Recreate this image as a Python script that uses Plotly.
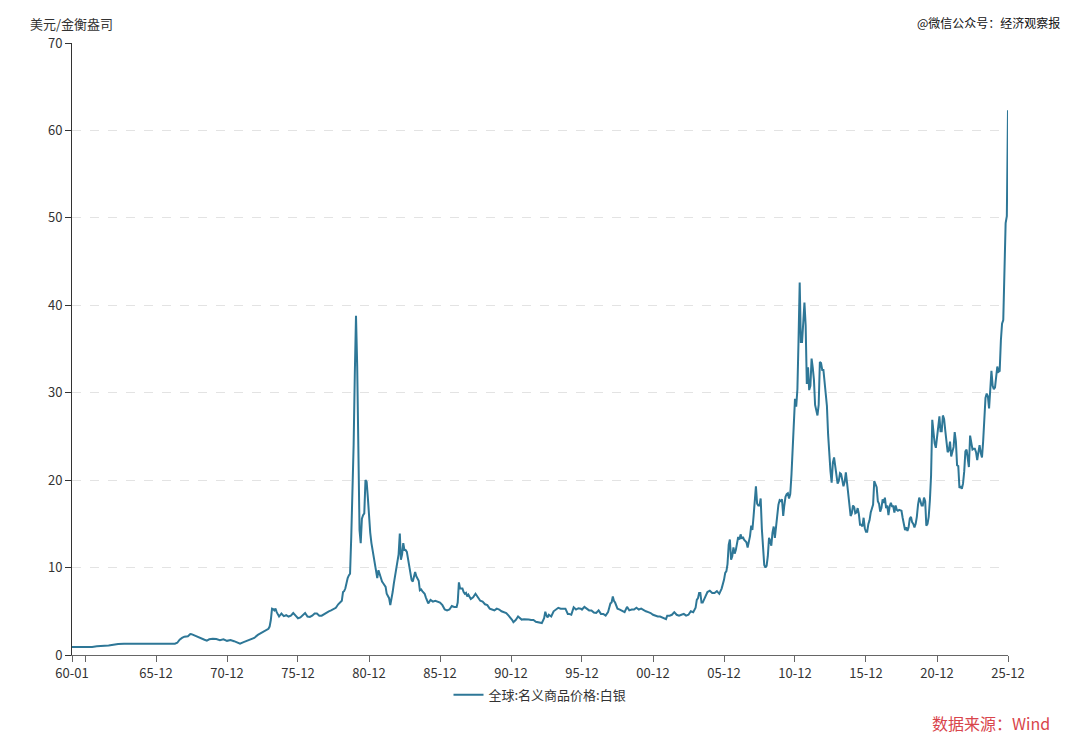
import plotly.graph_objects as go

# 全球:名义商品价格:白银 (美元/金衡盎司)
months = [
    "1960-01", "1960-07", "1960-12", "1961-06", "1961-10", "1962-03", "1962-08", "1962-12",
    "1963-04", "1963-09", "1964-06", "1965-06", "1966-06",
    "1967-04", "1967-06", "1967-08", "1967-10", "1967-12",
    "1968-03", "1968-05", "1968-06", "1968-08", "1968-11",
    "1969-02", "1969-05", "1969-07", "1969-09", "1969-12",
    "1970-03", "1970-06", "1970-09", "1970-12",
    "1971-03", "1971-06", "1971-09", "1971-11",
    "1972-02", "1972-05", "1972-08", "1972-11",
    "1973-02", "1973-05", "1973-08", "1973-11", "1973-12",
    "1974-01", "1974-02", "1974-03", "1974-04", "1974-05", "1974-06", "1974-08", "1974-10", "1974-12",
    "1975-02", "1975-04", "1975-06", "1975-08", "1975-10", "1975-12",
    "1976-02", "1976-04", "1976-06", "1976-08", "1976-10", "1976-12",
    "1977-02", "1977-04", "1977-06", "1977-08", "1977-10", "1977-12",
    "1978-02", "1978-04", "1978-06", "1978-08", "1978-10", "1978-12",
    "1979-01", "1979-02", "1979-03", "1979-04", "1979-05", "1979-06",
    "1979-07", "1979-08", "1979-09", "1979-10", "1979-11", "1979-12",
    "1980-01", "1980-02", "1980-03", "1980-04", "1980-05", "1980-06",
    "1980-07", "1980-08", "1980-09", "1980-10", "1980-11", "1980-12",
    "1981-01", "1981-02", "1981-03", "1981-04", "1981-05", "1981-06",
    "1981-07", "1981-08", "1981-09", "1981-10", "1981-11", "1981-12",
    "1982-01", "1982-02", "1982-03", "1982-04", "1982-05", "1982-06",
    "1982-07", "1982-08", "1982-09", "1982-10", "1982-11", "1982-12",
    "1983-01", "1983-02", "1983-03", "1983-04", "1983-05", "1983-06",
    "1983-07", "1983-08", "1983-09", "1983-10", "1983-11", "1983-12",
    "1984-01", "1984-02", "1984-03", "1984-04", "1984-05", "1984-06",
    "1984-07", "1984-08", "1984-09", "1984-10", "1984-11", "1984-12",
    "1985-02", "1985-04", "1985-06", "1985-08", "1985-10", "1985-12",
    "1986-02", "1986-04", "1986-06", "1986-08", "1986-10", "1986-12",
    "1987-02", "1987-03", "1987-04", "1987-05", "1987-06", "1987-07",
    "1987-08", "1987-09", "1987-10", "1987-11", "1987-12",
    "1988-02", "1988-04", "1988-06", "1988-08", "1988-10", "1988-12",
    "1989-02", "1989-04", "1989-06", "1989-08", "1989-10", "1989-12",
    "1990-02", "1990-04", "1990-06", "1990-08", "1990-10", "1990-12",
    "1991-01", "1991-02", "1991-04", "1991-06", "1991-07", "1991-09", "1991-11",
    "1992-01", "1992-03", "1992-05", "1992-07", "1992-09", "1992-11",
    "1993-01", "1993-02", "1993-04", "1993-05", "1993-06", "1993-07", "1993-08", "1993-10", "1993-12",
    "1994-02", "1994-04", "1994-06", "1994-08", "1994-10", "1994-12",
    "1995-01", "1995-03", "1995-04", "1995-05", "1995-07", "1995-09", "1995-11", "1995-12",
    "1996-02", "1996-04", "1996-06", "1996-08", "1996-10", "1996-12",
    "1997-02", "1997-04", "1997-06", "1997-08", "1997-10", "1997-12",
    "1998-01", "1998-02", "1998-03", "1998-04", "1998-06", "1998-08", "1998-10", "1998-12",
    "1999-02", "1999-04", "1999-06", "1999-08", "1999-10", "1999-12",
    "2000-02", "2000-04", "2000-06", "2000-08", "2000-10", "2000-12",
    "2001-02", "2001-04", "2001-06", "2001-08", "2001-10", "2001-11", "2001-12",
    "2002-02", "2002-04", "2002-06", "2002-08", "2002-10", "2002-12",
    "2003-02", "2003-04", "2003-06", "2003-08", "2003-10", "2003-12",
    "2004-01", "2004-02", "2004-03", "2004-04", "2004-05", "2004-06", "2004-08", "2004-10", "2004-12",
    "2005-02", "2005-04", "2005-06", "2005-08", "2005-10", "2005-12",
    "2006-01", "2006-02", "2006-03", "2006-04", "2006-05", "2006-06",
    "2006-07", "2006-08", "2006-09", "2006-10", "2006-11", "2006-12",
    "2007-01", "2007-02", "2007-03", "2007-04", "2007-05", "2007-06",
    "2007-07", "2007-08", "2007-09", "2007-10", "2007-11", "2007-12",
    "2008-01", "2008-02", "2008-03", "2008-04", "2008-05", "2008-06",
    "2008-07", "2008-08", "2008-09", "2008-10", "2008-11", "2008-12",
    "2009-01", "2009-02", "2009-03", "2009-04", "2009-05", "2009-06",
    "2009-07", "2009-08", "2009-09", "2009-10", "2009-11", "2009-12",
    "2010-01", "2010-02", "2010-03", "2010-04", "2010-05", "2010-06",
    "2010-07", "2010-08", "2010-09", "2010-10", "2010-11", "2010-12",
    "2011-01", "2011-02", "2011-03", "2011-04", "2011-05", "2011-06",
    "2011-07", "2011-08", "2011-09", "2011-10", "2011-11", "2011-12",
    "2012-01", "2012-02", "2012-03", "2012-04", "2012-05", "2012-06",
    "2012-07", "2012-08", "2012-09", "2012-10", "2012-11", "2012-12",
    "2013-01", "2013-02", "2013-03", "2013-04", "2013-05", "2013-06",
    "2013-07", "2013-08", "2013-09", "2013-10", "2013-11", "2013-12",
    "2014-01", "2014-02", "2014-03", "2014-04", "2014-05", "2014-06",
    "2014-07", "2014-08", "2014-09", "2014-10", "2014-11", "2014-12",
    "2015-01", "2015-02", "2015-03", "2015-04", "2015-05", "2015-06",
    "2015-07", "2015-08", "2015-09", "2015-10", "2015-11", "2015-12",
    "2016-01", "2016-02", "2016-03", "2016-04", "2016-05", "2016-06",
    "2016-07", "2016-08", "2016-09", "2016-10", "2016-11", "2016-12",
    "2017-01", "2017-02", "2017-03", "2017-04", "2017-05", "2017-06",
    "2017-07", "2017-08", "2017-09", "2017-10", "2017-11", "2017-12",
    "2018-01", "2018-02", "2018-03", "2018-04", "2018-05", "2018-06",
    "2018-07", "2018-08", "2018-09", "2018-10", "2018-11", "2018-12",
    "2019-01", "2019-02", "2019-03", "2019-04", "2019-05", "2019-06",
    "2019-07", "2019-08", "2019-09", "2019-10", "2019-11", "2019-12",
    "2020-01", "2020-02", "2020-03", "2020-04", "2020-05", "2020-06",
    "2020-07", "2020-08", "2020-09", "2020-10", "2020-11", "2020-12",
    "2021-01", "2021-02", "2021-03", "2021-04", "2021-05", "2021-06",
    "2021-07", "2021-08", "2021-09", "2021-10", "2021-11", "2021-12",
    "2022-01", "2022-02", "2022-03", "2022-04", "2022-05", "2022-06",
    "2022-07", "2022-08", "2022-09", "2022-10", "2022-11", "2022-12",
    "2023-01", "2023-02", "2023-03", "2023-04", "2023-05", "2023-06",
    "2023-07", "2023-08", "2023-09", "2023-10", "2023-11", "2023-12",
    "2024-01", "2024-02", "2024-03", "2024-04", "2024-05", "2024-06",
    "2024-07", "2024-08", "2024-09", "2024-10", "2024-11", "2024-12",
    "2025-01", "2025-02", "2025-03", "2025-04", "2025-05", "2025-06",
    "2025-07", "2025-08", "2025-09", "2025-10", "2025-11", "2025-12",
]

prices = [
    0.91, 0.91, 0.91, 0.92, 1.00, 1.02, 1.08, 1.18,
    1.27, 1.29, 1.29, 1.29, 1.29,
    1.29, 1.40, 1.75, 1.95, 2.10,
    2.15, 2.40, 2.38, 2.25, 2.05,
    1.90, 1.75, 1.65, 1.80, 1.85,
    1.82, 1.70, 1.80, 1.62,
    1.72, 1.58, 1.40, 1.30,
    1.48, 1.65, 1.85, 1.95,
    2.30, 2.50, 2.80, 3.00, 3.25,
    4.00, 5.30, 5.25, 5.10, 5.30, 4.90, 4.40, 4.75, 4.45,
    4.55, 4.40, 4.50, 4.80, 4.50, 4.20,
    4.30, 4.60, 4.80, 4.40, 4.35, 4.50,
    4.75, 4.75, 4.50, 4.50, 4.70, 4.80,
    5.00, 5.10, 5.30, 5.40, 5.80, 6.00,
    6.2, 7.2, 7.3, 7.6, 8.4, 8.8,
    9.1, 9.3, 13.5, 18.0, 24.0, 32.0,
    38.8, 33.0, 20.0, 14.3, 12.8, 15.6,
    16.0, 16.2, 20.0, 19.8, 18.0, 15.5,
    14.0, 12.8, 12.0, 11.5, 10.8, 9.5,
    8.8, 9.7, 9.2, 9.0, 8.4, 8.2,
    8.0, 7.8, 7.0, 6.8, 6.5, 5.7,
    6.3, 7.2, 8.2, 9.0, 9.8, 10.5,
    11.5, 13.9, 10.9, 11.5, 12.8, 12.0,
    12.0, 11.8, 11.0, 9.8, 9.0, 8.6,
    8.4, 9.0, 9.5, 9.0, 8.8, 8.5,
    7.4, 7.5, 7.3, 7.2, 7.0, 6.6,
    5.9, 6.3, 6.1, 6.2, 6.1, 6.0,
    5.7, 5.2, 5.1, 5.2, 5.6, 5.5,
    5.5, 6.0, 8.3, 7.6, 7.6, 7.6,
    7.2, 7.0, 7.1, 6.7, 6.9,
    6.4, 6.6, 7.0, 6.6, 6.2, 6.1,
    5.8, 5.7, 5.3, 5.2, 5.1, 5.3,
    5.2, 5.0, 4.9, 4.8, 4.5, 4.2,
    4.0, 3.75, 4.0, 4.4, 4.3, 4.05, 4.1,
    4.1, 4.05, 4.0, 4.0, 3.8, 3.75,
    3.7, 3.65, 4.2, 4.95, 4.5, 4.3, 4.6, 4.4, 5.0,
    5.2, 5.4, 5.3, 5.3, 5.3, 4.7,
    4.7, 4.6, 5.2, 5.45, 5.2, 5.35, 5.3, 5.2,
    5.5, 5.3, 5.1, 5.1, 4.85, 4.8,
    5.1, 4.7, 4.7, 4.5, 4.9, 5.9,
    6.0, 6.7, 6.2, 6.0, 5.3, 5.2, 5.0, 4.9,
    5.5, 5.1, 5.2, 5.2, 5.4, 5.2,
    5.3, 5.1, 5.0, 4.9, 4.8, 4.6,
    4.5, 4.4, 4.4, 4.3, 4.2, 4.1, 4.5,
    4.5, 4.6, 4.9, 4.6, 4.5, 4.6,
    4.7, 4.5, 4.6, 5.0, 4.9, 5.4,
    6.3, 6.5, 7.1, 7.1, 6.0, 6.0, 6.7, 7.2, 7.35,
    7.1, 7.1, 7.3, 7.0, 7.6, 8.6,
    9.4, 9.6, 10.4, 12.6, 13.2, 10.9,
    11.3, 12.3, 11.6, 12.0, 13.0, 13.5,
    13.2, 13.8, 13.3, 13.5, 13.2, 13.1,
    12.9, 12.3, 12.8, 13.6, 14.8, 14.3,
    15.9, 17.6, 19.3, 17.3, 17.1, 17.1,
    17.9, 14.4, 12.0, 10.3, 10.0, 10.2,
    11.3, 13.4, 13.1, 12.5, 14.0, 14.7,
    13.4, 14.6, 16.4, 17.2, 17.7, 17.6,
    17.8, 15.9, 17.1, 18.1, 18.4, 18.5,
    17.9, 18.4, 20.6, 23.5, 26.5, 29.3,
    28.4, 30.4, 35.8, 42.6, 35.8, 35.8,
    38.0, 40.3, 37.7, 31.0, 32.9, 30.3,
    30.8, 33.9, 32.9, 31.5, 28.6, 28.0,
    27.4, 28.6, 33.5, 33.4, 32.6, 32.6,
    31.0, 30.2, 28.5, 25.2, 22.4, 21.0,
    19.7, 22.0, 22.6, 21.7, 20.8, 19.6,
    19.9, 20.8, 20.7, 19.7, 19.3, 19.8,
    20.9, 19.7, 18.4, 17.2, 15.9, 16.2,
    17.1, 16.9, 16.2, 16.3, 16.8, 16.1,
    14.9, 14.9, 14.7, 15.7, 14.5, 14.1,
    14.1, 15.0, 15.4, 16.3, 16.9, 17.2,
    19.9, 19.6, 19.2, 17.6, 17.3, 16.4,
    16.8, 17.8, 17.4, 18.0, 16.8, 17.1,
    16.0, 17.0, 17.4, 17.0, 17.0, 16.3,
    17.1, 16.6, 16.5, 16.6, 16.5, 16.5,
    15.7, 15.0, 14.3, 14.6, 14.2, 14.6,
    15.6, 15.8, 15.2, 15.0, 14.6, 15.0,
    15.8, 17.2, 18.0, 17.6, 17.1, 17.1,
    18.0, 17.6, 14.8, 15.0, 15.8, 17.7,
    20.5, 26.9, 25.3, 24.2, 23.7, 24.8,
    25.9, 27.3, 25.6, 25.6, 27.4, 27.0,
    25.7, 23.9, 23.2, 23.4, 24.4, 22.7,
    23.3, 23.8, 25.5, 24.4, 21.7, 21.6,
    19.1, 19.3, 19.0, 19.6, 21.0, 23.3,
    23.5, 22.0, 21.5, 25.1, 24.1, 23.5,
    23.6, 23.6, 23.2, 22.3, 23.2, 24.0,
    23.1, 22.6, 24.4, 27.5, 29.4, 29.9,
    29.6, 28.2, 30.0, 32.5, 30.8, 30.4,
    30.6, 32.3, 33.0, 32.4, 32.5, 36.0,
    37.9, 38.3, 42.9, 49.4, 50.2, 62.3,
]

assert len(months) == len(prices)

tick_dates = ["1960-01", "1960-12", "1965-12", "1970-12", "1975-12", "1980-12", "1985-12",
              "1990-12", "1995-12", "2000-12", "2005-12", "2010-12", "2015-12", "2020-12", "2025-12"]
tick_labels = ["60-01", "", "65-12", "70-12", "75-12", "80-12", "85-12",
               "90-12", "95-12", "00-12", "05-12", "10-12", "15-12", "20-12", "25-12"]

FONT = "Microsoft YaHei, Noto Sans CJK SC, sans-serif"

fig = go.Figure()
fig.add_trace(go.Scatter(
    x=months,
    y=prices,
    mode="lines",
    name="全球:名义商品价格:白银",
    line=dict(color="#2e7797", width=2),
))

# page body has an 8px margin, so the figure is a bit smaller than the window
fig.update_layout(
    width=1072,
    height=740,
    paper_bgcolor="white",
    plot_bgcolor="white",
    font=dict(family=FONT, size=13, color="#333333"),
    margin=dict(l=64, r=72, t=35, b=93),
    showlegend=True,
    legend=dict(
        orientation="h",
        x=0.5, xanchor="center",
        y=-0.065, yanchor="middle",
        font=dict(size=13, color="#333333"),
        itemwidth=30,
    ),
    xaxis=dict(
        type="date",
        range=["1960-01-01", "2025-12-01"],
        tickvals=tick_dates,
        ticktext=tick_labels,
        ticks="outside",
        ticklen=6,
        tickcolor="#666666",
        showline=True,
        linecolor="#666666",
        linewidth=1,
        showgrid=False,
        zeroline=False,
        tickfont=dict(size=13, color="#333333"),
    ),
    yaxis=dict(
        range=[0, 70],
        dtick=10,
        ticks="outside",
        ticklen=6,
        tickcolor="#333333",
        showline=True,
        linecolor="#333333",
        linewidth=1,
        showgrid=True,
        gridcolor="#e3e3e3",
        griddash="dash",
        zeroline=False,
        tickfont=dict(size=13, color="#333333"),
    ),
)

fig.add_annotation(
    text="美元/金衡盎司", xref="paper", yref="paper", x=-0.047, y=1.032,
    xanchor="left", yanchor="middle", showarrow=False,
    font=dict(size=13, color="#333333"),
)
fig.add_annotation(
    text="@微信公众号：经济观察报", xref="paper", yref="paper", x=1.058, y=1.034,
    xanchor="right", yanchor="middle", showarrow=False,
    font=dict(size=12, color="#111111"),
)
fig.add_annotation(
    text="数据来源：Wind", xref="paper", yref="paper", x=1.047, y=-0.111,
    xanchor="right", yanchor="middle", showarrow=False,
    font=dict(size=16, color="#d9454b"),
)

fig.write_html("out.html")
